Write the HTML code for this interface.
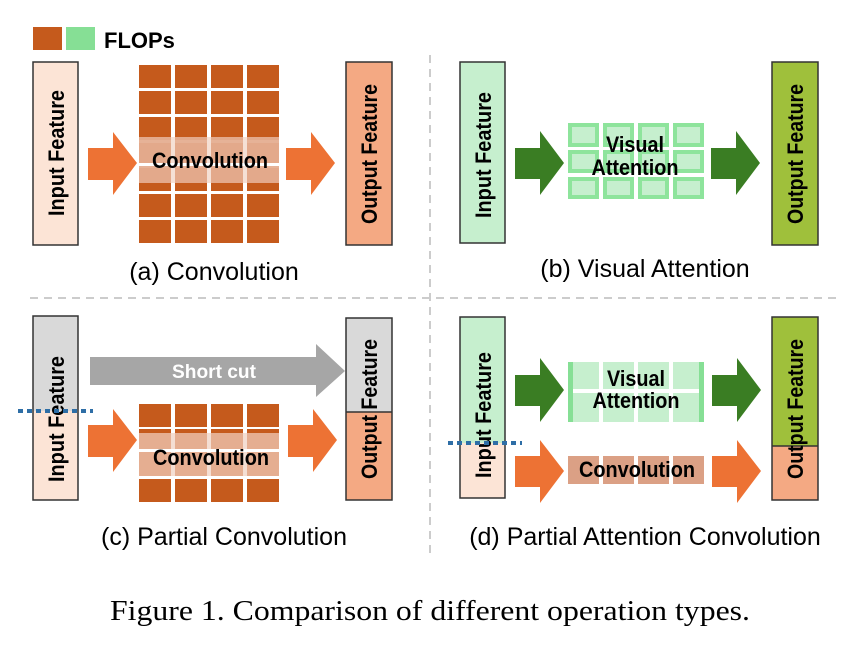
<!DOCTYPE html>
<html><head><meta charset="utf-8"><style>body{margin:0;background:#fff}svg{display:block}</style></head><body>
<svg width="850" height="652" viewBox="0 0 850 652" xmlns="http://www.w3.org/2000/svg" font-family="Liberation Sans, sans-serif">
<defs>
<g id="cc">
<rect x="0" y="0" width="32" height="23"/><rect x="36" y="0" width="32" height="23"/><rect x="72" y="0" width="32" height="23"/><rect x="108" y="0" width="32" height="23"/>
</g>
</defs>
<!-- legend -->
<rect x="33" y="27" width="29" height="23" fill="#c55a1c"/>
<rect x="66" y="27" width="29" height="23" fill="#86df95"/>
<text x="104" y="48" font-size="22" font-weight="bold">FLOPs</text>
<!-- dashed separators -->
<line x1="430" y1="55" x2="430" y2="555" stroke="#ccc" stroke-width="2" stroke-dasharray="8,6"/>
<line x1="30" y1="298" x2="840" y2="298" stroke="#ccc" stroke-width="2" stroke-dasharray="8,6"/>

<!-- (a) -->
<rect x="33" y="62" width="45" height="183" fill="#fce4d6" stroke="#333" stroke-width="1.5"/>
<text transform="translate(64,153) rotate(-90)" text-anchor="middle" font-size="22" font-weight="bold" textLength="126" lengthAdjust="spacingAndGlyphs">Input Feature</text>
<g fill="#c55a1c">
<use href="#cc" x="139" y="65"/><use href="#cc" x="139" y="91"/><use href="#cc" x="139" y="117"/><use href="#cc" x="139" y="143"/><use href="#cc" x="139" y="168"/><use href="#cc" x="139" y="194"/><use href="#cc" x="139" y="220"/>
</g>
<rect x="139" y="137" width="140" height="46" fill="#e5ae91" opacity="0.95"/>
<rect x="139" y="163" width="140" height="3" fill="#fff"/>
<g fill="#fff" opacity="0.6"><rect x="171" y="137" width="4" height="46"/><rect x="207" y="137" width="4" height="46"/><rect x="243" y="137" width="4" height="46"/></g>
<text x="210" y="168" text-anchor="middle" font-size="22" font-weight="bold" textLength="116" lengthAdjust="spacingAndGlyphs">Convolution</text>
<polygon points="88,148 113,148 113,132 137,163 113,195 113,180 88,180" fill="#ed7234"/>
<polygon points="286,148 311,148 311,132 335,163 311,195 311,180 286,180" fill="#ed7234"/>
<rect x="346" y="62" width="46" height="183" fill="#f4a983" stroke="#333" stroke-width="1.5"/>
<text transform="translate(377,154) rotate(-90)" text-anchor="middle" font-size="22" font-weight="bold" textLength="140" lengthAdjust="spacingAndGlyphs">Output Feature</text>
<text x="214" y="280" text-anchor="middle" font-size="25">(a) Convolution</text>

<!-- (b) -->
<rect x="460" y="62" width="45" height="181" fill="#c6efce" stroke="#333" stroke-width="1.5"/>
<text transform="translate(491,155) rotate(-90)" text-anchor="middle" font-size="22" font-weight="bold" textLength="126" lengthAdjust="spacingAndGlyphs">Input Feature</text>
<polygon points="515,148 540,148 540,131 564,163 540,195 540,179 515,179" fill="#3a7d23"/>
<polygon points="711,148 736,148 736,131 760,163 736,195 736,179 711,179" fill="#3a7d23"/>
<g fill="#c6efce" stroke="#8ee49c" stroke-width="4">
<rect x="570" y="125" width="27" height="20"/><rect x="605" y="125" width="27" height="20"/><rect x="640" y="125" width="27" height="20"/><rect x="675" y="125" width="27" height="20"/>
<rect x="570" y="152" width="27" height="19"/><rect x="605" y="152" width="27" height="19"/><rect x="640" y="152" width="27" height="19"/><rect x="675" y="152" width="27" height="19"/>
<rect x="570" y="179" width="27" height="18"/><rect x="605" y="179" width="27" height="18"/><rect x="640" y="179" width="27" height="18"/><rect x="675" y="179" width="27" height="18"/>
</g>
<text x="635" y="152" text-anchor="middle" font-size="22" font-weight="bold" textLength="58" lengthAdjust="spacingAndGlyphs">Visual</text>
<text x="635" y="175" text-anchor="middle" font-size="22" font-weight="bold" textLength="87" lengthAdjust="spacingAndGlyphs">Attention</text>
<rect x="772" y="62" width="46" height="183" fill="#9fc03b" stroke="#333" stroke-width="1.5"/>
<text transform="translate(803,154) rotate(-90)" text-anchor="middle" font-size="22" font-weight="bold" textLength="140" lengthAdjust="spacingAndGlyphs">Output Feature</text>
<text x="645" y="277" text-anchor="middle" font-size="25">(b) Visual Attention</text>

<!-- (c) -->
<rect x="33" y="316" width="45" height="95" fill="#d9d9d9"/>
<rect x="33" y="411" width="45" height="89" fill="#fce4d6"/>
<rect x="33" y="316" width="45" height="184" fill="none" stroke="#333" stroke-width="1.5"/>
<text transform="translate(64,419) rotate(-90)" text-anchor="middle" font-size="22" font-weight="bold" textLength="126" lengthAdjust="spacingAndGlyphs">Input Feature</text>
<line x1="18" y1="411" x2="93" y2="411" stroke="#2e6ea6" stroke-width="4" stroke-dasharray="5,4"/>
<polygon points="90,357 316,357 316,344 345,371 316,397 316,385 90,385" fill="#a6a6a6"/>
<text x="214" y="378" text-anchor="middle" font-size="19" font-weight="bold" fill="#fff" textLength="84" lengthAdjust="spacingAndGlyphs">Short cut</text>
<g fill="#c55a1c">
<use href="#cc" x="139" y="404"/><use href="#cc" x="139" y="429"/><use href="#cc" x="139" y="452"/><use href="#cc" x="139" y="479"/>
</g>
<rect x="139" y="433" width="140" height="43" fill="#e5ae91"/>
<rect x="139" y="449" width="140" height="3" fill="#fff"/>
<g fill="#fff" opacity="0.6"><rect x="171" y="433" width="4" height="43"/><rect x="207" y="433" width="4" height="43"/><rect x="243" y="433" width="4" height="43"/></g>
<text x="211" y="465" text-anchor="middle" font-size="22" font-weight="bold" textLength="116" lengthAdjust="spacingAndGlyphs">Convolution</text>
<polygon points="88,425 113,425 113,409 137,440 113,472 113,457 88,457" fill="#ed7234"/>
<polygon points="288,425 313,425 313,409 337,440 313,472 313,457 288,457" fill="#ed7234"/>
<rect x="346" y="318" width="46" height="94" fill="#d9d9d9"/>
<rect x="346" y="412" width="46" height="88" fill="#f4a983"/>
<rect x="346" y="318" width="46" height="182" fill="none" stroke="#333" stroke-width="1.5"/>
<line x1="346" y1="412" x2="392" y2="412" stroke="#333" stroke-width="1.5"/>
<text transform="translate(377,409) rotate(-90)" text-anchor="middle" font-size="22" font-weight="bold" textLength="140" lengthAdjust="spacingAndGlyphs">Output Feature</text>
<text x="224" y="545" text-anchor="middle" font-size="25">(c) Partial Convolution</text>

<!-- (d) -->
<rect x="460" y="317" width="45" height="126" fill="#c6efce"/>
<rect x="460" y="443" width="45" height="55" fill="#fce4d6"/>
<rect x="460" y="317" width="45" height="181" fill="none" stroke="#333" stroke-width="1.5"/>
<text transform="translate(491,415) rotate(-90)" text-anchor="middle" font-size="22" font-weight="bold" textLength="126" lengthAdjust="spacingAndGlyphs">Input Feature</text>
<line x1="448" y1="443" x2="522" y2="443" stroke="#2e6ea6" stroke-width="4" stroke-dasharray="5,4"/>
<polygon points="515,375 540,375 540,358 564,390 540,422 540,406 515,406" fill="#3a7d23"/>
<polygon points="515,456 540,456 540,440 564,471 540,503 540,487 515,487" fill="#ed7234"/>
<polygon points="712,375 737,375 737,358 761,390 737,422 737,406 712,406" fill="#3a7d23"/>
<polygon points="712,456 737,456 737,440 761,471 737,503 737,487 712,487" fill="#ed7234"/>
<g fill="#c6efce">
<rect x="568" y="362" width="31" height="27"/><rect x="603" y="362" width="31" height="27"/><rect x="638" y="362" width="31" height="27"/><rect x="673" y="362" width="31" height="27"/>
<rect x="568" y="393" width="31" height="29"/><rect x="603" y="393" width="31" height="29"/><rect x="638" y="393" width="31" height="29"/><rect x="673" y="393" width="31" height="29"/>
</g>
<g fill="#86df95"><rect x="568" y="362" width="5" height="60"/><rect x="699" y="362" width="5" height="60"/></g>
<text x="636" y="386" text-anchor="middle" font-size="22" font-weight="bold" textLength="58" lengthAdjust="spacingAndGlyphs">Visual</text>
<text x="636" y="408" text-anchor="middle" font-size="22" font-weight="bold" textLength="87" lengthAdjust="spacingAndGlyphs">Attention</text>
<g fill="#dba085">
<rect x="568" y="456" width="31" height="28"/><rect x="603" y="456" width="31" height="28"/><rect x="638" y="456" width="31" height="28"/><rect x="673" y="456" width="31" height="28"/>
</g>
<text x="637" y="477" text-anchor="middle" font-size="22" font-weight="bold" textLength="116" lengthAdjust="spacingAndGlyphs">Convolution</text>
<rect x="772" y="317" width="46" height="129" fill="#9fc03b"/>
<rect x="772" y="446" width="46" height="54" fill="#f4a983"/>
<rect x="772" y="317" width="46" height="183" fill="none" stroke="#333" stroke-width="1.5"/>
<line x1="772" y1="446" x2="818" y2="446" stroke="#333" stroke-width="1.5"/>
<text transform="translate(803,409) rotate(-90)" text-anchor="middle" font-size="22" font-weight="bold" textLength="140" lengthAdjust="spacingAndGlyphs">Output Feature</text>
<text x="645" y="545" text-anchor="middle" font-size="25">(d) Partial Attention Convolution</text>

<text x="430" y="620" text-anchor="middle" font-family="Liberation Serif, serif" font-size="28" textLength="640" lengthAdjust="spacingAndGlyphs">Figure 1. Comparison of different operation types.</text>
</svg>
</body></html>
